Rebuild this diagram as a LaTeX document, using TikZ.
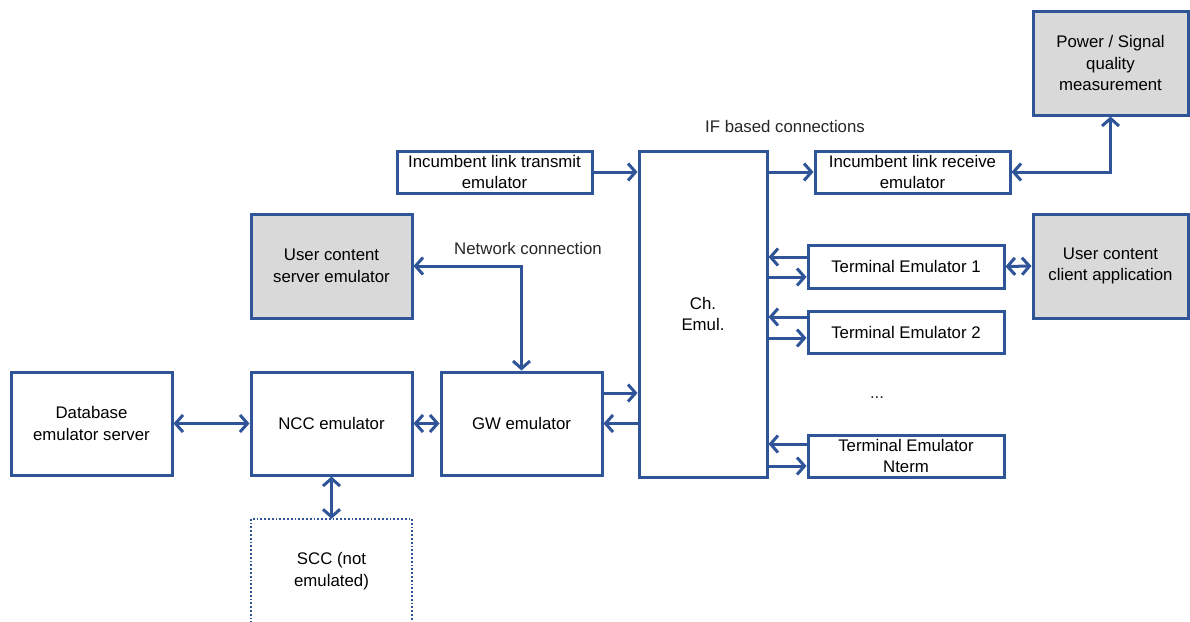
\documentclass[tikz,border=0pt]{standalone}
\usepackage{fontspec}
\setmainfont{Liberation Sans}
\usetikzlibrary{arrows.meta}
\definecolor{lblue}{RGB}{47,84,152}
\definecolor{gfill}{RGB}{217,217,217}
\begin{document}
\begin{tikzpicture}[x=1pt,y=-1pt,
  font=\fontsize{16.8}{21.5}\selectfont,
  box/.style={draw=lblue, line width=3pt, align=center, inner sep=0pt, fill=white},
  gbox/.style={box, fill=gfill},
  conn/.style={draw=lblue, line width=3pt, >={Straight Barb[length=7.5pt,width=17pt]}},
  lbl/.style={inner sep=0pt, text=black!85}]
\useasboundingbox (0,0) rectangle (1190,621);
% boxes
\node[box, minimum width=161pt, minimum height=103pt] (db) at (91.5,423.5) {Database\\emulator server};
\node[box, minimum width=161pt, minimum height=103pt] (ncc) at (331.5,423.5) {NCC emulator};
\node[box, minimum width=161pt, minimum height=103pt] (gw) at (521.5,423.5) {GW emulator};
\node[gbox, minimum width=161pt, minimum height=104pt] (us) at (331.5,266) {User content\\server emulator};
\node[box, minimum width=195pt, minimum height=42pt] (tx) at (494.5,172) {Incumbent link transmit\\emulator};
\node[box, minimum width=128pt, minimum height=326pt] (ch) at (703,314) {Ch.\\Emul.};
\node[box, minimum width=195pt, minimum height=42pt] (rx) at (912.5,172) {Incumbent link receive\\emulator};
\node[gbox, minimum width=155pt, minimum height=104pt] (pw) at (1110.5,63) {Power / Signal\\quality\\measurement};
\node[box, minimum width=196pt, minimum height=43pt] (te1) at (906,266.5) {Terminal Emulator 1};
\node[box, minimum width=196pt, minimum height=42pt] (te2) at (906,332) {Terminal Emulator 2};
\node[box, minimum width=196pt, minimum height=42pt] (ten) at (906,456) {Terminal Emulator\\Nterm};
\node[gbox, minimum width=155pt, minimum height=104pt] (cl) at (1110.5,266) {User content\\client application};
\node[align=center, inner sep=0pt, minimum width=161pt, minimum height=104pt] (scc) at (331.5,571) {SCC (not\\emulated)};
\draw[draw=lblue, line width=1.8pt, dotted] (scc.south west) -- (scc.north west) -- (scc.north east) -- (scc.south east);
% labels
\node[lbl] (iflbl) at (785,126) {IF based connections};
\node[lbl] (netlbl) at (528,248) {Network connection};
\node[lbl] (dots) at (877,398) {...};
% connectors
\draw[conn,->] (tx.east) -- (tx.east -| ch.west);
\draw[conn,->] (rx.west -| ch.east) -- (rx.west);
\draw[conn,<->] (rx.east) -| (pw.south);
\draw[conn,<->] (te1.east) -- (cl.west);
\draw[conn,->] ([yshift=9.5pt]te1.west) -- ([yshift=9.5pt]te1.west -| ch.east);
\draw[conn,->] ([yshift=-10.5pt]te1.west -| ch.east) -- ([yshift=-10.5pt]te1.west);
\draw[conn,->] ([yshift=15pt]te2.west) -- ([yshift=15pt]te2.west -| ch.east);
\draw[conn,->] ([yshift=-6pt]te2.west -| ch.east) -- ([yshift=-6pt]te2.west);
\draw[conn,->] ([yshift=12pt]ten.west) -- ([yshift=12pt]ten.west -| ch.east);
\draw[conn,->] ([yshift=-10pt]ten.west -| ch.east) -- ([yshift=-10pt]ten.west);
\draw[conn,->] ([yshift=30.5pt]gw.east) -- ([yshift=30.5pt]gw.east -| ch.west);
\draw[conn,->] (gw.east -| ch.west) -- (gw.east);
\draw[conn,<->] (ncc.east) -- (gw.west);
\draw[conn,<->] (db.east) -- (ncc.west);
\draw[conn,<->] (ncc.south) -- (scc.north);
\draw[conn,<->] (us.east) -| (gw.north);
\end{tikzpicture}
\end{document}
